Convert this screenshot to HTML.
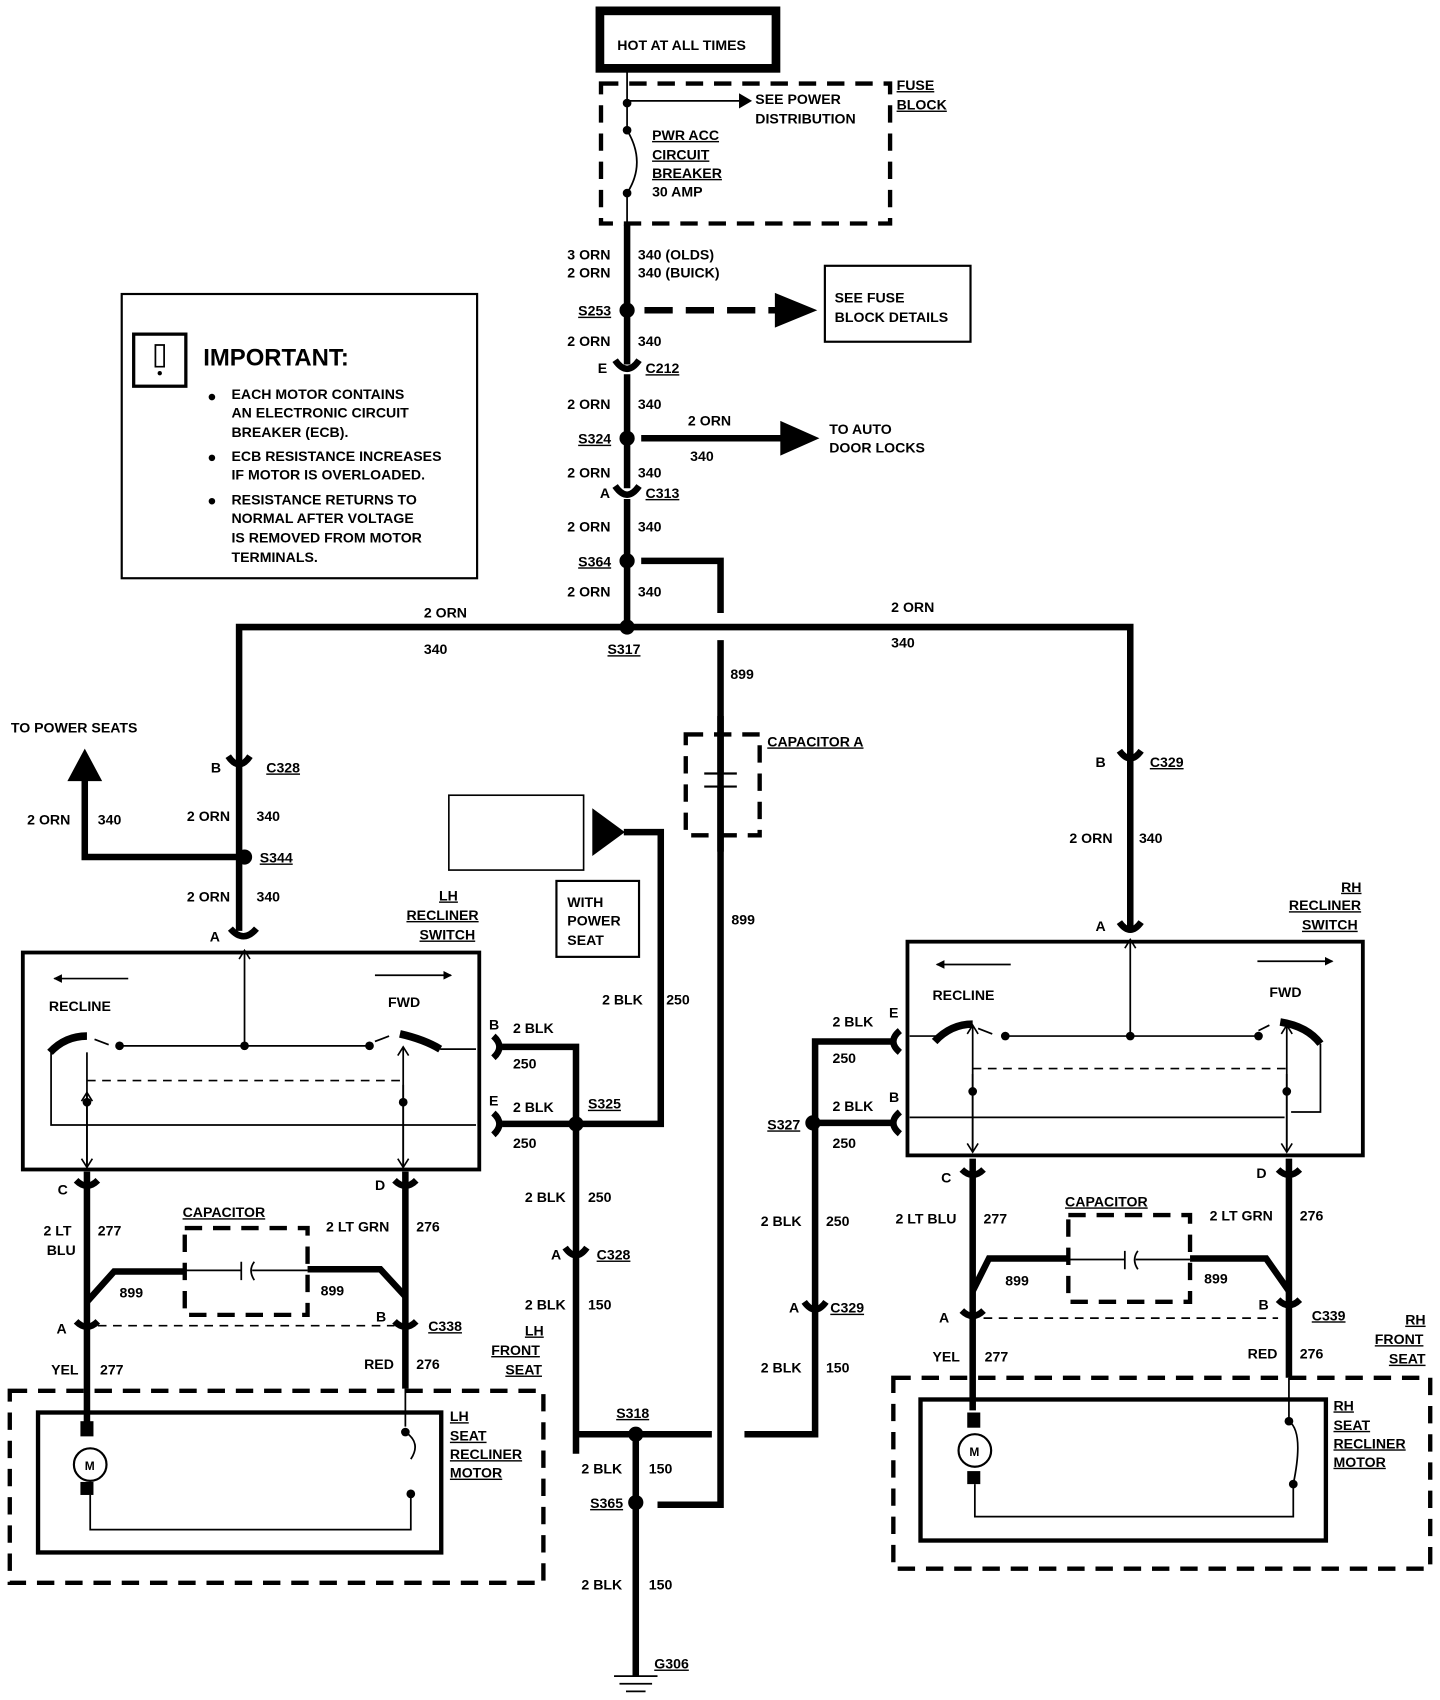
<!DOCTYPE html>
<html><head><meta charset="utf-8"><style>
html,body{margin:0;padding:0;background:#fff}
svg{display:block}
text{font-family:"Liberation Sans",sans-serif;font-size:13px;font-weight:bold;fill:#000}
.w{stroke:#000;stroke-width:6;fill:none}
.n{stroke:#000;stroke-width:1.6;fill:none}
.d{stroke:#000;stroke-width:4;fill:none;stroke-dasharray:16 10}
.dn{stroke:#000;stroke-width:1.5;fill:none;stroke-dasharray:8 6}
.u{text-decoration:underline}
</style></head><body>
<svg width="1440" height="1700" viewBox="0 0 1325 1567" preserveAspectRatio="none" xmlns="http://www.w3.org/2000/svg">
<defs>
<marker id="ah" markerWidth="8" markerHeight="8" refX="7" refY="4" orient="auto" markerUnits="userSpaceOnUse"><path d="M0,0 L8,4 L0,8 Z"/></marker>
<marker id="oa" markerWidth="12" markerHeight="12" refX="10" refY="6" orient="auto" markerUnits="userSpaceOnUse"><path d="M2,1 L10,6 L2,11" fill="none" stroke="#000" stroke-width="1.5"/></marker>
</defs>
<rect x="552" y="10" width="162" height="53" fill="none" stroke="#000" stroke-width="8"/>
<text x="568" y="46">HOT AT ALL TIMES</text>
<rect x="553" y="77" width="266" height="129" class="d"/>
<text x="825" y="83" class="u">FUSE</text><text x="825" y="101" class="u">BLOCK</text>
<path class="n" d="M577,64 V120 M577,178 V207 M577,93 H680"/>
<path d="M680,86 L692,93 L680,100Z"/>
<path class="n" d="M577,120 Q595,150 577,178"/>
<circle cx="577" cy="95" r="4"/><circle cx="577" cy="120" r="4"/><circle cx="577" cy="178" r="4"/>
<text x="695" y="96">SEE POWER</text><text x="695" y="114">DISTRIBUTION</text>
<text x="600" y="129" class="u">PWR ACC</text><text x="600" y="147" class="u">CIRCUIT</text><text x="600" y="164" class="u">BREAKER</text><text x="600" y="181">30 AMP</text>
<path class="w" d="M577,207 V336 M577,345 V450 M577,460 V580"/>
<text x="522" y="239">3 ORN</text><text x="587" y="239">340 (OLDS)</text>
<text x="522" y="256">2 ORN</text><text x="587" y="256">340 (BUICK)</text>
<circle cx="577" cy="286" r="7"/><text x="532" y="291" class="u">S253</text>
<path class="w" d="M593,286 H715" stroke-dasharray="26 12"/>
<path d="M713,270 L752,286 L713,302Z"/>
<rect x="759" y="245" width="134" height="70" fill="none" stroke="#000" stroke-width="2"/>
<text x="768" y="279">SEE FUSE</text><text x="768" y="297">BLOCK DETAILS</text>
<text x="522" y="319">2 ORN</text><text x="587" y="319">340</text>
<path class="w" d="M566,332 Q577,348 588,332" stroke-width="4"/><text x="550" y="344">E</text><text x="594" y="344" class="u">C212</text>
<text x="522" y="377">2 ORN</text><text x="587" y="377">340</text>
<circle cx="577" cy="404" r="7"/><text x="532" y="409" class="u">S324</text>
<path class="w" d="M590,404 H720"/><path d="M718,388 L754,404 L718,420Z"/>
<text x="633" y="392">2 ORN</text><text x="635" y="425">340</text>
<text x="763" y="400">TO AUTO</text><text x="763" y="417">DOOR LOCKS</text>
<text x="522" y="440">2 ORN</text><text x="587" y="440">340</text>
<path class="w" d="M566,448 Q577,464 588,448" stroke-width="4"/><text x="552" y="459">A</text><text x="594" y="459" class="u">C313</text>
<text x="522" y="490">2 ORN</text><text x="587" y="490">340</text>
<circle cx="577" cy="517" r="7"/><text x="532" y="522" class="u">S364</text>
<path class="w" d="M590,517 H663 V565 M663,590 V1387 H605"/>
<text x="522" y="550">2 ORN</text><text x="587" y="550">340</text>
<path class="w" d="M220,790 V578 H1040 V855"/>
<circle cx="577" cy="578" r="7"/><text x="559" y="603" class="u">S317</text>
<text x="390" y="569">2 ORN</text><text x="390" y="603">340</text>
<text x="820" y="564">2 ORN</text><text x="820" y="597">340</text>
<text x="672" y="626">899</text>
<rect x="631" y="677" width="68" height="93" fill="#fff" class="d"/>
<path class="w" d="M663,660 V712 M663,725 V785" />
<path d="M648,713 H678 M648,725 H678" stroke="#000" stroke-width="2"/>
<text x="706" y="688" class="u">CAPACITOR A</text>
<text x="673" y="852">899</text>
<path class="w" d="M210,697 Q220,712 230,697" stroke-width="4"/><text x="194" y="712">B</text><text x="245" y="712" class="u">C328</text>
<text x="172" y="757">2 ORN</text><text x="236" y="757">340</text>
<circle cx="225" cy="790" r="7"/><text x="239" y="795" class="u">S344</text>
<path class="w" d="M220,790 V858 M218,790 H78 V715"/><path d="M62,720 L78,690 L94,720Z"/>
<text x="10" y="675">TO POWER SEATS</text>
<text x="25" y="760">2 ORN</text><text x="90" y="760">340</text>
<text x="172" y="831">2 ORN</text><text x="236" y="831">340</text>
<path class="w" d="M212,856 Q224,870 236,856" stroke-width="4"/><text x="193" y="868">A</text>
<text x="404" y="830" class="u">LH</text><text x="374" y="848" class="u">RECLINER</text><text x="386" y="866" class="u">SWITCH</text>
<rect x="21" y="878" width="420" height="200" fill="none" stroke="#000" stroke-width="3.5"/>
<path class="n" d="M225,963 V876" marker-end="url(#oa)"/>
<path class="n" d="M118,902 H50" marker-end="url(#ah)"/><path class="n" d="M345,899 H415" marker-end="url(#ah)"/>
<text x="45" y="932">RECLINE</text><text x="357" y="928">FWD</text>
<path d="M46,970 Q60,955 80,955" stroke="#000" stroke-width="7" fill="none"/>
<path d="M368,953 Q390,958 405,967" stroke="#000" stroke-width="7" fill="none"/>
<path class="n" d="M87,958 L100,963 M345,960 L358,955 M110,964 H340 M405,967 H438 M47,970 V1037 H438"/>
<circle cx="110" cy="964" r="4"/><circle cx="225" cy="964" r="4"/><circle cx="340" cy="964" r="4"/>
<path class="dn" d="M80,996 H371"/>
<path class="n" d="M80,1076 V1007" marker-end="url(#oa)"/><path class="n" d="M80,970 V1076" marker-end="url(#oa)"/>
<path class="n" d="M371,1076 V965" marker-end="url(#oa)"/><path class="n" d="M371,1000 V1076" marker-end="url(#oa)"/>
<circle cx="80" cy="1016" r="4"/><circle cx="371" cy="1016" r="4"/>
<path class="w" d="M454,955 Q465,965 454,975 M454,1026 Q465,1036 454,1046" stroke-width="4"/>
<path class="w" d="M462,965 H530 V1340 M462,1036 H608 V767 H574"/>
<path d="M545,745 L575,767 L545,789Z"/>
<text x="450" y="949">B</text><text x="472" y="952">2 BLK</text><text x="472" y="985">250</text>
<text x="450" y="1019">E</text><text x="472" y="1025">2 BLK</text><text x="472" y="1058">250</text>
<circle cx="530" cy="1036" r="7"/><text x="541" y="1022" class="u">S325</text>
<rect x="413" y="733" width="124" height="69" fill="none" stroke="#000" stroke-width="1.5"/>
<rect x="512" y="812" width="76" height="70" fill="none" stroke="#000" stroke-width="2"/>
<text x="522" y="836">WITH</text><text x="522" y="853">POWER</text><text x="522" y="871">SEAT</text>
<text x="554" y="926">2 BLK</text><text x="613" y="926">250</text>
<text x="483" y="1108">2 BLK</text><text x="541" y="1108">250</text>
<path class="w" d="M520,1150 Q530,1164 540,1150" stroke-width="4"/><text x="507" y="1161">A</text><text x="549" y="1161" class="u">C328</text>
<text x="483" y="1207">2 BLK</text><text x="541" y="1207">150</text>
<path class="w" d="M530,1322 H655 M685,1322 H750 V960 H820 M748,1035 H822"/>
<circle cx="585" cy="1322" r="7"/><text x="567" y="1307" class="u">S318</text>
<path class="w" d="M585,1322 V1545"/>
<text x="535" y="1358">2 BLK</text><text x="597" y="1358">150</text>
<circle cx="585" cy="1385" r="7"/><text x="543" y="1390" class="u">S365</text>
<text x="535" y="1465">2 BLK</text><text x="597" y="1465">150</text>
<path class="n" d="M565,1545 H605 M570,1552 H600 M576,1559 H594" stroke-width="2"/>
<text x="602" y="1538" class="u">G306</text>
<path class="w" d="M80,1080 V1320 M373,1080 V1280"/>
<path class="w" d="M70,1088 Q80,1098 90,1088 M363,1088 Q373,1098 383,1088 M70,1218 Q80,1228 90,1218 M363,1218 Q373,1228 383,1218" stroke-width="4"/>
<text x="53" y="1101">C</text><text x="345" y="1097">D</text>
<text x="40" y="1139">2 LT</text><text x="43" y="1157">BLU</text><text x="90" y="1139">277</text>
<text x="300" y="1135">2 LT GRN</text><text x="383" y="1135">276</text>
<text x="168" y="1122" class="u">CAPACITOR</text>
<rect x="170" y="1132" width="113" height="80" class="d" fill="none"/>
<path class="w" d="M80,1200 L105,1172 H170 M283,1170 H350 L373,1195"/>
<path class="n" d="M170,1171 H222 M232,1171 H283 M222,1163 V1180"/><path class="n" d="M234,1163 Q228,1171 234,1180"/>
<text x="110" y="1196">899</text><text x="295" y="1194">899</text>
<text x="52" y="1229">A</text><text x="346" y="1218">B</text><text x="394" y="1227" class="u">C338</text>
<path class="dn" d="M90,1222 H363"/>
<text x="47" y="1267">YEL</text><text x="92" y="1267">277</text><text x="335" y="1262">RED</text><text x="383" y="1262">276</text>
<text x="483" y="1231" class="u">LH</text><text x="452" y="1249" class="u">FRONT</text><text x="465" y="1267" class="u">SEAT</text>
<rect x="9" y="1282" width="491" height="177" class="d"/>
<rect x="35" y="1302" width="371" height="129" fill="none" stroke="#000" stroke-width="4"/>
<text x="414" y="1310" class="u">LH</text><text x="414" y="1328" class="u">SEAT</text><text x="414" y="1345" class="u">RECLINER</text><text x="414" y="1362" class="u">MOTOR</text>
<rect x="74" y="1310" width="12" height="14"/><rect x="74" y="1366" width="12" height="12"/>
<circle cx="83" cy="1350" r="15" fill="#fff" stroke="#000" stroke-width="2"/><text x="78" y="1355" style="font-size:11px">M</text>
<path class="n" d="M83,1378 V1410 H378 V1377 M373,1280 V1315 M373,1320 Q388,1330 378,1345"/>
<circle cx="373" cy="1320" r="4"/><circle cx="378" cy="1377" r="4"/>
<text x="1008" y="707">B</text><text x="1058" y="707" class="u">C329</text>
<path class="w" d="M1030,692 Q1040,706 1050,692 M1030,850 Q1040,864 1050,850" stroke-width="4"/>
<text x="984" y="777">2 ORN</text><text x="1048" y="777">340</text>
<text x="1008" y="858">A</text>
<text x="1234" y="822" class="u">RH</text><text x="1186" y="839" class="u">RECLINER</text><text x="1198" y="857" class="u">SWITCH</text>
<rect x="835" y="868" width="419" height="197" fill="none" stroke="#000" stroke-width="3.5"/>
<path class="n" d="M1040,953 V866" marker-end="url(#oa)"/>
<path class="n" d="M930,889 H862" marker-end="url(#ah)"/><path class="n" d="M1157,886 H1226" marker-end="url(#ah)"/>
<text x="858" y="922">RECLINE</text><text x="1168" y="919">FWD</text>
<path d="M860,960 Q875,944 895,944" stroke="#000" stroke-width="7" fill="none"/>
<path d="M1178,942 Q1203,946 1215,962" stroke="#000" stroke-width="7" fill="none"/>
<path class="n" d="M900,948 L913,953 M1158,950 L1168,945 M925,955 H1158 M1215,962 V1025 H1188 M837,955 H870 M837,1030 H1182"/>
<circle cx="925" cy="955" r="4"/><circle cx="1040" cy="955" r="4"/><circle cx="1158" cy="955" r="4"/>
<path class="dn" d="M895,985 H1184"/>
<path class="n" d="M895,1062 V945" marker-end="url(#oa)"/><path class="n" d="M895,990 V1062" marker-end="url(#oa)"/>
<path class="n" d="M1184,1062 V945" marker-end="url(#oa)"/><path class="n" d="M1184,990 V1062" marker-end="url(#oa)"/>
<circle cx="895" cy="1006" r="4"/><circle cx="1184" cy="1006" r="4"/>
<path class="w" d="M828,950 Q816,960 828,970 M828,1025 Q816,1035 828,1045" stroke-width="4"/>
<text x="818" y="938">E</text><text x="766" y="946">2 BLK</text><text x="766" y="980">250</text>
<text x="818" y="1016">B</text><text x="766" y="1024">2 BLK</text><text x="766" y="1058">250</text>
<circle cx="748" cy="1035" r="7"/><text x="706" y="1041" class="u">S327</text>
<text x="700" y="1130">2 BLK</text><text x="760" y="1130">250</text>
<path class="w" d="M740,1200 Q750,1214 760,1200" stroke-width="4"/><text x="726" y="1210">A</text><text x="764" y="1210" class="u">C329</text>
<text x="700" y="1265">2 BLK</text><text x="760" y="1265">150</text>
<path class="w" d="M895,1068 V1300 M1186,1068 V1270"/>
<path class="w" d="M885,1078 Q895,1088 905,1078 M1176,1078 Q1186,1088 1196,1078 M885,1208 Q895,1218 905,1208 M1176,1198 Q1186,1208 1196,1198" stroke-width="4"/>
<text x="866" y="1090">C</text><text x="1156" y="1086">D</text>
<text x="824" y="1128">2 LT BLU</text><text x="905" y="1128">277</text>
<text x="1113" y="1125">2 LT GRN</text><text x="1196" y="1125">276</text>
<text x="980" y="1112" class="u">CAPACITOR</text>
<rect x="983" y="1120" width="112" height="80" class="d" fill="none"/>
<path class="w" d="M895,1190 L910,1160 H983 M1095,1160 H1165 L1186,1190"/>
<path class="n" d="M983,1161 H1035 M1045,1161 H1095 M1035,1153 V1170"/><path class="n" d="M1047,1153 Q1041,1161 1047,1170"/>
<text x="925" y="1185">899</text><text x="1108" y="1183">899</text>
<text x="864" y="1219">A</text><text x="1158" y="1207">B</text><text x="1207" y="1217" class="u">C339</text>
<path class="dn" d="M905,1215 H1176"/>
<text x="858" y="1255">YEL</text><text x="906" y="1255">277</text><text x="1148" y="1252">RED</text><text x="1196" y="1252">276</text>
<text x="1293" y="1221" class="u">RH</text><text x="1265" y="1239" class="u">FRONT</text><text x="1278" y="1257" class="u">SEAT</text>
<rect x="822" y="1270" width="494" height="176" class="d"/>
<rect x="847" y="1290" width="373" height="130" fill="none" stroke="#000" stroke-width="4"/>
<text x="1227" y="1300" class="u">RH</text><text x="1227" y="1318" class="u">SEAT</text><text x="1227" y="1335" class="u">RECLINER</text><text x="1227" y="1352" class="u">MOTOR</text>
<rect x="890" y="1302" width="12" height="14"/><rect x="890" y="1356" width="12" height="12"/>
<circle cx="897" cy="1337" r="15" fill="#fff" stroke="#000" stroke-width="2"/><text x="892" y="1342" style="font-size:11px">M</text>
<path class="n" d="M897,1368 V1398 H1190 V1368 M1186,1270 V1310 M1186,1310 Q1200,1320 1190,1368"/>
<circle cx="1186" cy="1310" r="4"/><circle cx="1190" cy="1368" r="4"/>
<rect x="112" y="271" width="327" height="262" fill="none" stroke="#000" stroke-width="2"/>
<rect x="123" y="308" width="48" height="48" fill="none" stroke="#000" stroke-width="3"/>
<path class="n" d="M143,318 H151 V338 H143 Z"/><circle cx="147" cy="344" r="2"/>
<text x="187" y="337" style="font-size:22px">IMPORTANT:</text>
<circle cx="195" cy="366" r="3"/><text x="213" y="368">EACH MOTOR CONTAINS</text><text x="213" y="385">AN ELECTRONIC CIRCUIT</text><text x="213" y="403">BREAKER (ECB).</text>
<circle cx="195" cy="422" r="3"/><text x="213" y="425">ECB RESISTANCE INCREASES</text><text x="213" y="442">IF MOTOR IS OVERLOADED.</text>
<circle cx="195" cy="462" r="3"/><text x="213" y="465">RESISTANCE RETURNS TO</text><text x="213" y="482">NORMAL AFTER VOLTAGE</text><text x="213" y="500">IS REMOVED FROM MOTOR</text><text x="213" y="518">TERMINALS.</text>
</svg>
</body></html>
